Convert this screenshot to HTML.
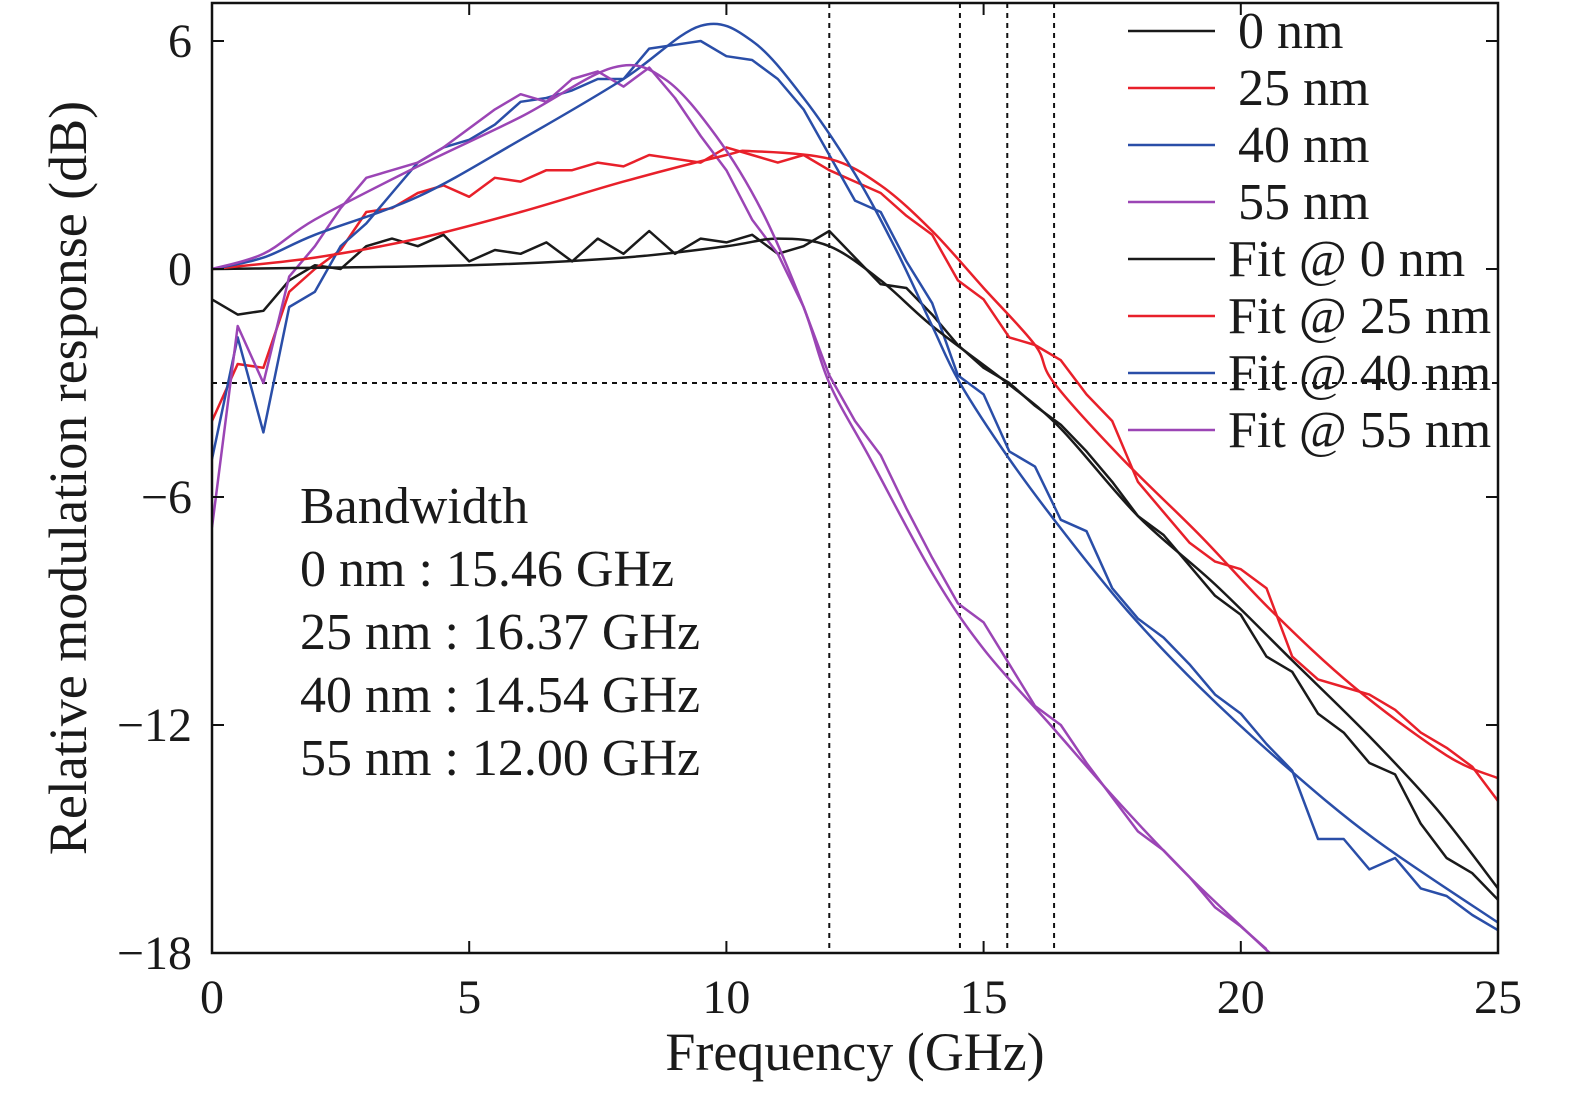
<!DOCTYPE html>
<html><head><meta charset="utf-8"><style>
body{margin:0;background:#fff}
svg text{font-family:"Liberation Serif",serif;fill:#1a1a1a}
</style></head><body>
<svg id="c" width="1575" height="1093" xmlns="http://www.w3.org/2000/svg"></svg>
<script>
const freq=[];for(let i=0;i<=50;i++)freq.push(i*0.5);
const m0=[-0.8,-1.2,-1.1,-0.3,0.1,0,0.6,0.8,0.6,0.9,0.2,0.5,0.4,0.7,0.2,0.8,0.4,1.0,0.4,0.8,0.7,0.9,0.4,0.6,1.0,0.3,-0.4,-0.5,-1.2,-2.0,-2.6,-3.0,-3.6,-4.1,-4.8,-5.6,-6.5,-7.0,-7.8,-8.6,-9.1,-10.2,-10.6,-11.7,-12.2,-13.0,-13.3,-14.6,-15.5,-15.9,-16.6];
const m25=[-4,-2.5,-2.6,-0.6,0,0.5,1.5,1.6,2.0,2.2,1.9,2.4,2.3,2.6,2.6,2.8,2.7,3.0,2.9,2.8,3.2,3.0,2.8,3.0,2.6,2.3,2.0,1.4,0.9,-0.3,-0.8,-1.8,-2.0,-2.4,-3.3,-4.0,-5.6,-6.4,-7.2,-7.7,-7.9,-8.4,-10.2,-10.8,-11.0,-11.2,-11.6,-12.2,-12.6,-13.1,-14.0];
const m40=[-5,-1.8,-4.3,-1.0,-0.6,0.6,1.2,2.0,2.8,3.2,3.4,3.8,4.4,4.5,4.7,5.0,5.0,5.8,5.9,6.0,5.6,5.5,5.0,4.2,3.0,1.8,1.5,0.2,-0.9,-2.8,-3.3,-4.8,-5.2,-6.6,-6.9,-8.4,-9.2,-9.7,-10.4,-11.2,-11.7,-12.5,-13.2,-15.0,-15.0,-15.8,-15.5,-16.3,-16.5,-17.0,-17.4];
const m55=[-6.8,-1.5,-3.0,-0.2,0.6,1.6,2.4,2.6,2.8,3.2,3.7,4.2,4.6,4.4,5.0,5.2,4.8,5.3,4.5,3.5,2.6,1.3,0.4,-1.0,-2.8,-4.0,-4.9,-6.3,-7.6,-8.8,-9.3,-10.4,-11.5,-12.0,-13.0,-13.9,-14.8,-15.3,-16.0,-16.8,-17.3,-17.9];
const f0x=[0,5,8,10,11,12,13,14,15.46,16.5,18,19.5,21,22.5,23.8,25];
const f0y=[0,0.1,0.3,0.6,0.8,0.6,-0.3,-1.5,-3,-4.2,-6.5,-8.3,-10.3,-12.3,-14.2,-16.3];
const f25x=[0,2,4,6,8,10,10.5,12,13,14,15,16,16.37,17.7,19.2,20.6,22.2,24,25];
const f25y=[0,0.3,0.8,1.5,2.3,3.0,3.1,2.9,2.2,1.0,-0.5,-2,-3,-5,-7,-9,-11,-12.8,-13.4];
const f40x=[0,1,2,4,6,8,9.5,10.5,11.5,12.5,13.3,14,14.54,15.5,16.6,17.8,19.2,20.8,22.6,25];
const f40y=[0,0.3,0.9,1.9,3.4,5,6.4,6.0,4.5,2.5,0.5,-1.5,-3,-5,-7,-9,-11,-13,-15,-17.2];
const f55x=[0,1,2,4,6,7.8,8.8,9.8,10.7,11.5,12,12.8,14,15,16.3,17.6,19,20.8];
const f55y=[0,0.4,1.3,2.7,4,5.3,5.0,3.5,1.5,-1,-3,-5,-8,-10,-12,-14,-16,-18.3];
const bw=[12.00,14.54,15.46,16.37];
const xTicks=[0,5,10,15,20,25], yTicks=[6,0,-6,-12,-18];
const yLabels=["6","0","\u22126","\u221212","\u221218"];
const legendLabels=["0 nm","25 nm","40 nm","55 nm","Fit @ 0 nm","Fit @ 25 nm","Fit @ 40 nm","Fit @ 55 nm"];
const bwText=["Bandwidth","0 nm : 15.46 GHz","25 nm : 16.37 GHz","40 nm : 14.54 GHz","55 nm : 12.00 GHz"];
const C={k:"#1a1a1a",r:"#e8202a",b:"#2a4ea8",p:"#9b45b5"};
const X=v=>212+v*(1286/25), Y=v=>269-v*38;
const svg=document.getElementById('c'),NS="http://www.w3.org/2000/svg";
function el(t,a,txt){const e=document.createElementNS(NS,t);for(const k in a)e.setAttribute(k,a[k]);if(txt!==undefined)e.textContent=txt;svg.appendChild(e);return e;}
const cp=el('clipPath',{id:'cp'});const r=document.createElementNS(NS,'rect');r.setAttribute('x',212);r.setAttribute('y',3);r.setAttribute('width',1286);r.setAttribute('height',950);cp.appendChild(r);
function line(xs,ys,col,name,smooth){const P=ys.map((v,i)=>[X(xs[i]),Y(v)]);let d='M'+P[0][0].toFixed(1)+' '+P[0][1].toFixed(1);
for(let i=1;i<P.length;i++){if(!smooth){d+='L'+P[i][0].toFixed(1)+' '+P[i][1].toFixed(1);continue;}
const p0=P[i-2]||P[i-1],p1=P[i-1],p2=P[i],p3=P[i+1]||P[i];
d+='C'+(p1[0]+(p2[0]-p0[0])/6).toFixed(1)+' '+(p1[1]+(p2[1]-p0[1])/6).toFixed(1)+' '+(p2[0]-(p3[0]-p1[0])/6).toFixed(1)+' '+(p2[1]-(p3[1]-p1[1])/6).toFixed(1)+' '+p2[0].toFixed(1)+' '+p2[1].toFixed(1);}
const p=el('path',{d:d,fill:'none',stroke:col,'stroke-width':2.5,'clip-path':'url(#cp)','stroke-linejoin':'round'});
}
bw.forEach((b,i)=>{const l=el('line',{x1:X(b),x2:X(b),y1:3,y2:953,stroke:'#111','stroke-width':2,'stroke-dasharray':'5,5'});});
const h=el('line',{x1:212,x2:1498,y1:Y(-3),y2:Y(-3),stroke:'#111','stroke-width':2,'stroke-dasharray':'5,5'});
line(freq,m0,C.k,'measured-0nm',false);line(freq,m25,C.r,'measured-25nm',false);line(freq,m40,C.b,'measured-40nm',false);line(freq.slice(0,m55.length),m55,C.p,'measured-55nm',false);
line(f0x,f0y,C.k,'fit-0nm',true);line(f25x,f25y,C.r,'fit-25nm',true);line(f40x,f40y,C.b,'fit-40nm',true);line(f55x,f55y,C.p,'fit-55nm',true);
const fr=el('rect',{x:212,y:3,width:1286,height:950,fill:'none',stroke:'#111','stroke-width':2.5});
xTicks.forEach(t=>{el('line',{x1:X(t),x2:X(t),y1:953,y2:941,stroke:'#111','stroke-width':2});el('line',{x1:X(t),x2:X(t),y1:3,y2:15,stroke:'#111','stroke-width':2});
const tx=el('text',{x:X(t),y:1013,'font-size':48,'text-anchor':'middle'},String(t));});
yTicks.forEach((t,i)=>{el('line',{x1:212,x2:224,y1:Y(t),y2:Y(t),stroke:'#111','stroke-width':2});el('line',{x1:1498,x2:1486,y1:Y(t),y2:Y(t),stroke:'#111','stroke-width':2});
const tx=el('text',{x:192,y:Y(t)+16,'font-size':48,'text-anchor':'end'},yLabels[i]);});
const xt=el('text',{x:855,y:1070,'font-size':54,'text-anchor':'middle'},'Frequency (GHz)');
const yt=el('text',{x:0,y:0,'font-size':54,'text-anchor':'middle',transform:'translate(86,478) rotate(-90)'},'Relative modulation response (dB)');
const lc=[C.k,C.r,C.b,C.p,C.k,C.r,C.b,C.p];
legendLabels.forEach((s,i)=>{const y=31+i*57;el('line',{x1:1128,x2:1215,y1:y,y2:y,stroke:lc[i],'stroke-width':2.5});
const tx=el('text',{x:i<4?1238:1228,y:y+17,'font-size':52},s);});
bwText.forEach((s,i)=>{const tx=el('text',{x:300,y:523+i*63,'font-size':52},s);});
</script></body></html>
